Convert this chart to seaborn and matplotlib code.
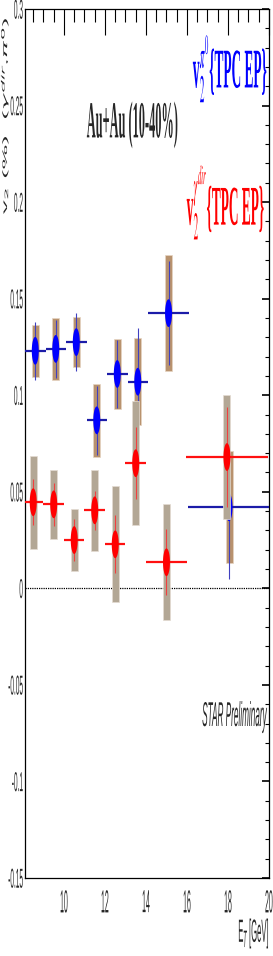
import matplotlib
matplotlib.use('Agg')
import matplotlib.pyplot as plt
import seaborn as sns
import pandas as pd
import numpy as np
from matplotlib.path import Path
from matplotlib.patheffects import AbstractPathEffect
from matplotlib.transforms import Affine2D
from matplotlib.ticker import MultipleLocator, FuncFormatter

# pi0 v2 (blue)
pi0_et = [8.6, 9.6, 10.6, 11.6, 12.6, 13.6, 15.1, 18.05]
pi0_v2 = [0.123, 0.124, 0.1275, 0.087, 0.111, 0.107, 0.1425, 0.042]
pi0_bin = [0.5, 0.5, 0.5, 0.5, 0.5, 0.5, 1.0, 2.0]
pi0_stat = [0.015, 0.015, 0.015, 0.018, 0.0175, 0.028, 0.027, 0.037]
pi0_sys = [0.0135, 0.016, 0.013, 0.019, 0.018, 0.0225, 0.030, 0.029]

# direct photon v2 (red)
gam_et = [8.5, 9.5, 10.5, 11.5, 12.5, 13.5, 15.0, 17.95]
gam_v2 = [0.0446, 0.0435, 0.025, 0.0404, 0.0228, 0.0648, 0.0135, 0.068]
gam_bin = [0.5, 0.5, 0.5, 0.5, 0.5, 0.5, 1.0, 2.0]
gam_stat = [0.012, 0.011, 0.011, 0.010, 0.015, 0.0185, 0.017, 0.026]
gam_sys = [0.024, 0.018, 0.016, 0.021, 0.030, 0.032, 0.030, 0.032]

SY = 4.2  # the original picture was squeezed sideways, so text is tall and narrow


class Stretch(AbstractPathEffect):
    def __init__(self, sy=SY, anchor='center'):
        super().__init__()
        self.sy = sy
        self.anchor = anchor

    def draw_path(self, renderer, gc, tpath, affine, rgbFace=None):
        box = tpath.get_extents(affine)
        y0 = {'center': (box.y0 + box.y1) / 2, 'top': box.y1, 'bottom': box.y0}[self.anchor]
        extra = Affine2D().translate(0, -y0).scale(1, self.sy).translate(0, y0)
        renderer.draw_path(gc, tpath, affine + extra, rgbFace)


def ellipse_marker(ratio=0.25, n=40):
    t = np.linspace(0, 2 * np.pi, n)
    verts = list(zip(ratio * np.cos(t), np.sin(t)))
    return Path(verts, closed=True)


sns.set_style('white')
plt.rcParams['font.family'] = ['Liberation Sans', 'DejaVu Sans']
plt.rcParams['axes.unicode_minus'] = False

pi0 = pd.DataFrame({'et': pi0_et, 'v2': pi0_v2, 'bin': pi0_bin, 'stat': pi0_stat, 'sys': pi0_sys})
gam = pd.DataFrame({'et': gam_et, 'v2': gam_v2, 'bin': gam_bin, 'stat': gam_stat, 'sys': gam_sys})

fig = plt.figure(figsize=(2.73, 9.56), dpi=100)
ax = fig.add_axes([25 / 273, 78 / 956, 244 / 273, 869 / 956])

ax.axhline(0, color='black', lw=0.9, ls=(0, (1, 0.8)), zorder=1)

marker = ellipse_marker()

# pi0: boxes, error bars, points
ax.bar(pi0['et'], 2 * pi0['sys'], bottom=pi0['v2'] - pi0['sys'], width=0.34,
       color='#b8926e', edgecolor='#e6d4c2', linewidth=0.5, zorder=2)
ax.errorbar(pi0['et'], pi0['v2'], yerr=pi0['stat'], fmt='none', ecolor='#4040c0',
            elinewidth=0.8, zorder=3)
ax.errorbar(pi0['et'], pi0['v2'], xerr=pi0['bin'], fmt='none', ecolor='#1c1ca8',
            elinewidth=1.6, zorder=3)
sns.scatterplot(data=pi0, x='et', y='v2', ax=ax, marker=marker, s=400,
                color='#0000ff', edgecolor='none', zorder=4)

# direct photon: boxes, error bars, points
ax.bar(gam['et'], 2 * gam['sys'], bottom=gam['v2'] - gam['sys'], width=0.34,
       color='#b3a795', edgecolor='#e4dcd2', linewidth=0.5, zorder=5)
ax.errorbar(gam['et'], gam['v2'], yerr=gam['stat'], fmt='none', ecolor='#f04040',
            elinewidth=0.8, zorder=6)
ax.errorbar(gam['et'], gam['v2'], xerr=gam['bin'], fmt='none', ecolor='#ff1010',
            elinewidth=1.6, zorder=6)
sns.scatterplot(data=gam, x='et', y='v2', ax=ax, marker=marker, s=400,
                color='#ff0000', edgecolor='none', zorder=7)

ax.set_xlim(8.1, 20)
ax.set_ylim(-0.15, 0.3)
ax.set_xlabel('')
ax.set_ylabel('')
ax.xaxis.set_major_locator(MultipleLocator(2))
ax.xaxis.set_minor_locator(MultipleLocator(0.5))
ax.yaxis.set_major_locator(MultipleLocator(0.05))
ax.yaxis.set_minor_locator(MultipleLocator(0.01))


def fmt(v, pos):
    r = round(v, 3)
    return '0' if r == 0 else f'{r:g}'


ax.yaxis.set_major_formatter(FuncFormatter(fmt))
ax.tick_params(which='both', direction='in', top=True, right=True, color='black')
ax.tick_params(axis='x', which='major', length=18.7, width=0.8, pad=8.6, labelsize=5.0)
ax.tick_params(axis='x', which='minor', length=9.4, width=0.8)
ax.tick_params(axis='y', which='major', length=5, width=1.2, pad=1.5, labelsize=4.7)
ax.tick_params(axis='y', which='minor', length=2.9, width=0.8)
for s in ax.spines.values():
    s.set_color('black')
    s.set_linewidth(0.9)

plt.setp(ax.get_yticklabels(), path_effects=[Stretch()])
plt.setp(ax.get_xticklabels(), path_effects=[Stretch(sy=4.6, anchor='top')])

serif = ['Liberation Serif', 'DejaVu Serif']
ax.text(13.34, 0.24, 'Au+Au (10-40%)', family=serif,
        weight='bold', fontsize=8.9, ha='center', va='center', path_effects=[Stretch()])
ax.text(19.98, 0.269, r'v$_2^{\pi^0}${TPC EP}', family=serif,
        weight='bold', fontsize=9.6, color='#0000ff', math_fontfamily='stix',
        ha='right', va='center', path_effects=[Stretch()])
ax.text(19.85, 0.2, r'v$_2^{\gamma^{dir}}${TPC EP}', family=serif,
        weight='bold', fontsize=9.6, color='#ff0000', math_fontfamily='stix',
        ha='right', va='center', path_effects=[Stretch()])
ax.text(19.85, -0.067, 'STAR Preliminary', style='italic', fontsize=5.9,
        ha='right', va='center', path_effects=[Stretch()])
ax.text(20.05, -0.179, r'E$_T$ [GeV]', fontsize=5.5, ha='right', va='center',
        clip_on=False, path_effects=[Stretch()])
fig.text(0.018, 0.879, r'v$_2$ (%)  ($\gamma^{dir}$,$\pi^0$)', fontsize=4.8,
         rotation=90, ha='center', va='center', path_effects=[Stretch()])

fig.savefig('out.png', dpi=100)
